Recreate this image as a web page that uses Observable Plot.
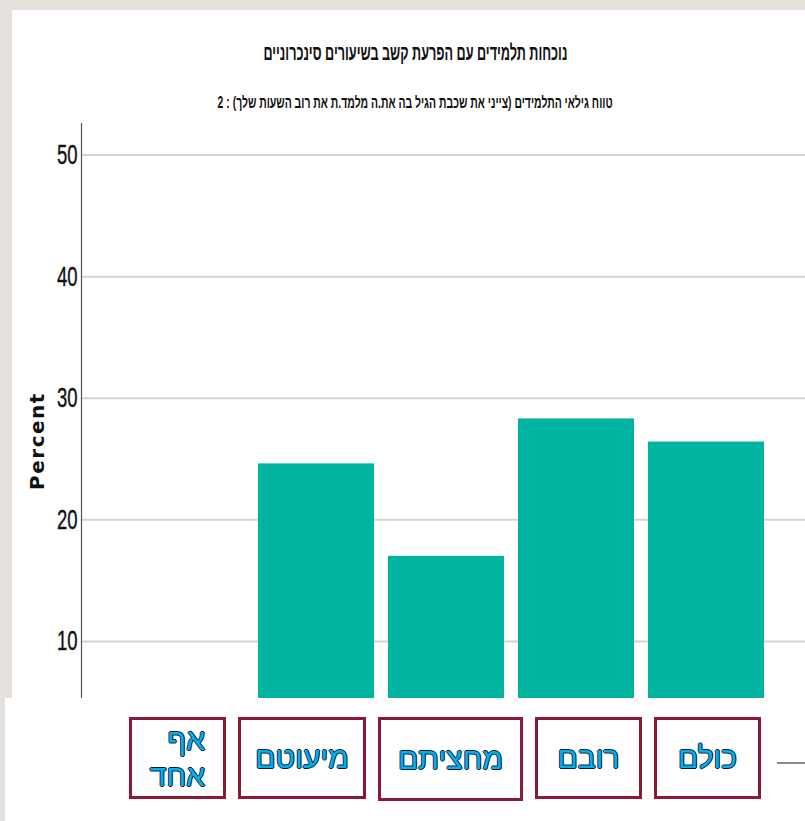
<!DOCTYPE html>
<html>
<head>
<meta charset="utf-8">
<script src="https://cdn.jsdelivr.net/npm/d3@7"></script>
<script src="https://cdn.jsdelivr.net/npm/@observablehq/plot@0.6"></script>
<style>
  html, body { margin: 0; padding: 0; }
  body { width: 805px; height: 821px; background: #e4e1dd; position: relative; overflow: hidden; }
  #panel { position: absolute; left: 12px; top: 10px; right: 0; bottom: 0; background: #fff; }
  #chart { position: absolute; left: 0; top: 0; }
  #chart svg g[aria-label="y-axis tick label"] text {
    font-family: "Liberation Sans", "DejaVu Sans", sans-serif !important;
    font-size: 28px !important; fill: #111; stroke: #111; stroke-width: 0.4px;
  }
  .ttl { position: absolute; left: 0; width: 830px; text-align: center; direction: rtl; color: #111; }
  .ttl span { display: inline-block; white-space: nowrap; transform-origin: center center; font-weight: bold;
    font-family: "Liberation Sans", "DejaVu Sans", sans-serif; }
  #title { top: 40px; }
  #title span { font-size: 22px; }
  #subtitle { top: 94px; }
  #subtitle span { font-size: 16px; }
  #ylabel { position: absolute; left: 37px; top: 441px; transform: translate(-50%, -50%) rotate(-90deg);
    font: bold 20px "DejaVu Sans", sans-serif; letter-spacing: 1.5px; color: #111; white-space: nowrap; }
  #overlay { position: absolute; left: 5px; top: 698px; width: 772px; height: 123px; background: #fff; z-index: 5; }
  #boxes { position: absolute; left: 124px; top: 19px; display: flex; gap: 12px; }
  .box { box-sizing: border-box; height: 82px; border: 3px solid #8a1a36; display: flex; align-items: center;
    justify-content: center; direction: rtl; }
  .box span { font: 30px "Liberation Sans", "DejaVu Sans", sans-serif; color: #00b0f0; line-height: 36px;
    text-shadow: -1px 0 #0b1d36, 1px 0 #0b1d36, 0 -1px #0b1d36, 0 1px #0b1d36; text-align: right; }
  .box:nth-child(1) { width: 97px; justify-content: flex-start; padding-right: 18px; }
  .box:nth-child(1) span { display: inline-block; width: 60px; }
  .box:nth-child(2) { width: 128px; }
  .box:nth-child(3) { width: 145px; height: 84px; }
  .box:nth-child(4) { width: 107px; }
  .box:nth-child(5) { width: 107px; }
</style>
</head>
<body>
<div id="panel"></div>
<div id="chart"></div>
<div class="ttl" id="title"><span></span></div>
<div class="ttl" id="subtitle"><span></span></div>
<div id="ylabel"></div>
<div id="overlay"><div id="boxes"></div></div>
<script>
const titleText = "נוכחות תלמידים עם הפרעת קשב בשיעורים סינכרוניים";
const subtitleText = "טווח גילאי התלמידים (צייני את שכבת הגיל בה את.ה מלמד.ת את רוב השעות שלך) : 2";
const yLabel = "Percent";
const categories = ["אף אחד", "מיעוטם", "מחציתם", "רובם", "כולם"];
const percents = [0, 24.6, 17.0, 28.3, 26.4];
const yTicks = [10, 20, 30, 40, 50];

const rows = categories.map((c, i) => ({category: c, percent: percents[i]}));

const chart = Plot.plot({
  width: 805,
  height: 821,
  marginTop: 123,
  marginBottom: 58.5,
  marginLeft: 81,
  marginRight: 0,
  style: {background: "transparent", overflow: "visible"},
  x: {domain: categories, range: [81, 811], paddingInner: 0.107, paddingOuter: 0.34, axis: null},
  y: {domain: [0, 52.6], ticks: yTicks, label: null},
  marks: [
    Plot.ruleY(yTicks, {stroke: "#d3d3d3", strokeWidth: 2}),
    Plot.ruleY([0], {stroke: "#8a8a8a", strokeWidth: 2}),
    Plot.barY(rows, {x: "category", y: "percent", fill: "#00b4a0"}),
    Plot.axisY({ticks: yTicks, tickSize: 0, tickPadding: 4, label: null}),
    Plot.frame({anchor: "left", stroke: "#555", strokeWidth: 1.2})
  ]
});
document.getElementById("chart").appendChild(chart);

// narrow, tall tick digits as in the reference
d3.select(chart).selectAll('g[aria-label="y-axis tick label"] text').each(function() {
  const t = this.getAttribute("transform") || "";
  this.setAttribute("transform", t + " scale(0.66,1)");
});

function fitText(sel, text, target) {
  const span = document.querySelector(sel + " span");
  span.textContent = text;
  const w = span.getBoundingClientRect().width;
  span.style.transform = `scaleX(${target / w})`;
}
fitText("#title", titleText, 304);
fitText("#subtitle", subtitleText, 395);
document.getElementById("ylabel").textContent = yLabel;

const boxes = document.getElementById("boxes");
categories.forEach(c => {
  const b = document.createElement("div");
  b.className = "box";
  const s = document.createElement("span");
  s.textContent = c;
  b.appendChild(s);
  boxes.appendChild(b);
});
</script>
</body>
</html>
